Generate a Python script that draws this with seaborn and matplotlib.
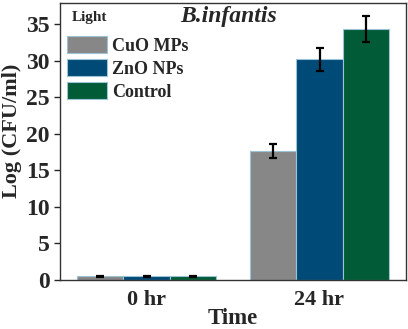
import matplotlib
matplotlib.use("Agg")
import matplotlib.pyplot as plt
import seaborn as sns
import pandas as pd
import numpy as np

times = ["0 hr", "24 hr"]
groups = ["CuO MPs", "ZnO NPs", "Control"]
means_cuo = [0.5, 17.6]
means_zno = [0.5, 30.2]
means_ctrl = [0.5, 34.3]
err_cuo = [0.1, 0.95]
err_zno = [0.1, 1.6]
err_ctrl = [0.1, 1.8]
colors = ["#878787", "#004a77", "#005b36"]

rows = []
for g, m in zip(groups, [means_cuo, means_zno, means_ctrl]):
    for t, v in zip(times, m):
        rows.append({"Time": t, "Group": g, "Value": v})
df = pd.DataFrame(rows)
errs = {"CuO MPs": err_cuo, "ZnO NPs": err_zno, "Control": err_ctrl}

sns.set_style("ticks")
plt.rcParams['font.family'] = ['Liberation Serif', 'DejaVu Serif']
plt.rcParams['font.weight'] = 'bold'

fig = plt.figure(figsize=(4.08, 3.29), dpi=100)
ax = fig.add_axes([60/408, 49/329, 346/408, 277/329])
sns.barplot(data=df, x="Time", y="Value", hue="Group", hue_order=groups,
            order=times, palette=colors, errorbar=None, width=0.8,
            edgecolor="#9cc3d5", linewidth=0.8, ax=ax, saturation=1)

bars = [p for p in ax.patches if p.get_height() > 0]
bars_sorted = sorted(bars, key=lambda p: p.get_x())
idx = 0
for ti in range(len(times)):
    for g in groups:
        p = bars_sorted[idx]
        idx += 1
        cx = p.get_x() + p.get_width() / 2
        ax.errorbar(cx, p.get_height(), yerr=errs[g][ti], color="black",
                    capsize=2.8, elinewidth=1.6, capthick=1.6, fmt="none")

ax.set_ylim(0, 37.9)
ax.set_xlim(-0.5, 1.5)
ax.set_yticks(np.arange(0, 36, 5))
ax.tick_params(axis="y", labelsize=17, width=1, length=4, pad=3.5, direction="out")
ax.tick_params(axis="x", labelsize=16, length=0, pad=7)
for lab in ax.get_xticklabels() + ax.get_yticklabels():
    lab.set_fontweight("bold")
ax.set_xlabel("Time", fontsize=16.5, fontweight="bold")
ax.xaxis.set_label_coords(0.5, -0.102)
ax.set_ylabel("Log (CFU/ml)", fontsize=16, fontweight="bold")
ax.yaxis.set_label_coords(-0.11, 0.54)
for s in ax.spines.values():
    s.set_linewidth(1)
    s.set_color("#333333")

ax.text(0.488, 0.953, "B.infantis", transform=ax.transAxes, ha="center", va="center",
        fontsize=17, fontweight="bold", fontstyle="italic")
ax.text(12/346, (280-18)/277, "Light", transform=ax.transAxes, ha="left", va="center",
        fontsize=11, fontweight="bold")

leg = ax.legend(loc="upper left", bbox_to_anchor=(7/346, (280-36)/277),
                frameon=False, fontsize=13, borderpad=0, borderaxespad=0,
                handlelength=2.2, handleheight=1.05, handletextpad=0.3,
                labelspacing=0.25)
for t in leg.get_texts():
    t.set_fontweight("bold")

fig.savefig("out.png", dpi=100)
